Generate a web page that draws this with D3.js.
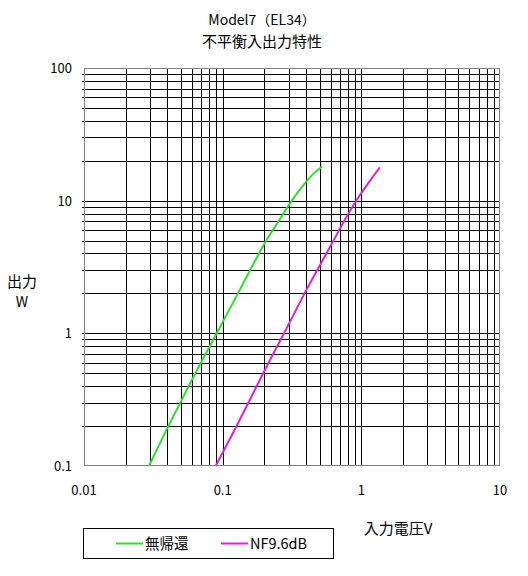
<!DOCTYPE html>
<html><head><meta charset="utf-8">
<script src="https://cdn.jsdelivr.net/npm/d3@7"></script>
<style>
html,body{margin:0;padding:0;background:#fff;}
text{font-family:"Noto Sans CJK JP","Noto Sans",sans-serif;fill:#000;}
</style></head>
<body>
<svg id="c" width="528" height="576"></svg>
<script>
const titleLines = ["Model7（EL34）", "不平衡入出力特性"];
const xTitle = "入力電圧V";
const yTitle = ["出力", "W"];
const xTickValues = [0.01, 0.1, 1, 10];
const xTickLabels = ["0.01", "0.1", "1", "10"];
const yTickValues = [0.1, 1, 10, 100];
const yTickLabels = ["0.1", "1", "10", "100"];
const seriesNames = ["無帰還", "NF9.6dB"];
const seriesColors = ["#2ee02e", "#e020e0"];
const nfbX = [0.0294, 0.0406, 0.0495, 0.0635, 0.0905, 0.129, 0.158, 0.206, 0.253, 0.315, 0.38, 0.44, 0.518];
const nfbY = [0.1, 0.2, 0.3, 0.5, 1, 2, 3, 5, 7, 10, 13, 15.5, 18.0];
const nf96X = [0.089, 0.126, 0.196, 0.277, 0.39, 0.63, 0.75, 0.92, 1.12, 1.36];
const nf96Y = [0.1, 0.2, 0.5, 1, 2, 5, 7, 10, 13.5, 17.8];

const svg = d3.select("#c");
const L = 84, R = 500, T = 68, B = 466;
const x = d3.scaleLog().domain([0.01, 10]).range([L, R]);
const y = d3.scaleLog().domain([0.1, 100]).range([B, T]);
const crisp = v => Math.round(v) + 0.5;

// grid
const minors = [];
for (let e = -2; e < 2; e++) for (let i = 1; i <= 9; i++) minors.push(i * Math.pow(10, e));
const xGrid = minors.filter(v => v > 0.01 * 1.0001 && v < 10 * 0.9999);
const yMinors = [];
for (let e = -1; e < 2; e++) for (let i = 1; i <= 9; i++) yMinors.push(i * Math.pow(10, e));
const yGrid = yMinors.filter(v => v > 0.1 * 1.0001);

const g = svg.append("g");
g.selectAll("line.vx").data(xGrid).join("line")
  .attr("x1", d => crisp(x(d))).attr("x2", d => crisp(x(d)))
  .attr("y1", T).attr("y2", B).attr("stroke", "#000").attr("stroke-width", 1);
g.selectAll("line.hy").data(yGrid).join("line")
  .attr("y1", d => crisp(y(d))).attr("y2", d => crisp(y(d)))
  .attr("x1", L - 2).attr("x2", R).attr("stroke", "#000").attr("stroke-width", 1);

// frame
g.append("rect").attr("x", L + 0.5).attr("y", T + 0.5).attr("width", R - L - 1).attr("height", B - T - 1)
  .attr("fill", "none").attr("stroke", "#808080");

// curves
const line = d3.line().x(d => x(d[0])).y(d => y(d[1])).curve(d3.curveCatmullRom.alpha(0.5));
const series = [d3.zip(nfbX, nfbY), d3.zip(nf96X, nf96Y)];
svg.selectAll("path.s").data(series).join("path")
  .attr("d", line).attr("fill", "none")
  .attr("stroke", (d, i) => seriesColors[i]).attr("stroke-width", 2);

// axes labels
svg.selectAll("text.xt").data(xTickValues).join("text")
  .attr("x", d => x(d)).attr("y", 495).attr("text-anchor", "middle")
  .attr("font-size", 13).text((d, i) => xTickLabels[i]);
svg.selectAll("text.yt").data(yTickValues).join("text")
  .attr("x", 72).attr("y", d => y(d) + 5).attr("text-anchor", "end")
  .attr("font-size", 13).text((d, i) => yTickLabels[i]);

// titles
const titleSizes = [14, 15];
svg.selectAll("text.tt").data(titleLines).join("text")
  .attr("x", 262).attr("y", (d, i) => 25 + i * 22).attr("text-anchor", "middle")
  .attr("font-size", (d, i) => titleSizes[i]).text(d => d);
svg.selectAll("text.yl").data(yTitle).join("text")
  .attr("x", 22).attr("y", (d, i) => 287 + i * 20).attr("text-anchor", "middle")
  .attr("font-size", (d, i) => i === 0 ? 15 : 14).text(d => d);
svg.append("text").attr("x", 398).attr("y", 534).attr("text-anchor", "middle")
  .attr("font-size", 15).text(xTitle);

// legend
svg.append("rect").attr("x", 83.5).attr("y", 528.5).attr("width", 250).attr("height", 30)
  .attr("fill", "#fff").attr("stroke", "#000");
const lx = [116, 221];
const lg = svg.selectAll("g.lg").data(seriesNames).join("g");
lg.append("line").attr("x1", (d, i) => lx[i]).attr("x2", (d, i) => lx[i] + 27)
  .attr("y1", 543.5).attr("y2", 543.5).attr("stroke", (d, i) => seriesColors[i]).attr("stroke-width", 2);
lg.append("text").attr("x", (d, i) => lx[i] + 29).attr("y", 549)
  .attr("font-size", 14.5).text(d => d);
</script>
</body></html>
